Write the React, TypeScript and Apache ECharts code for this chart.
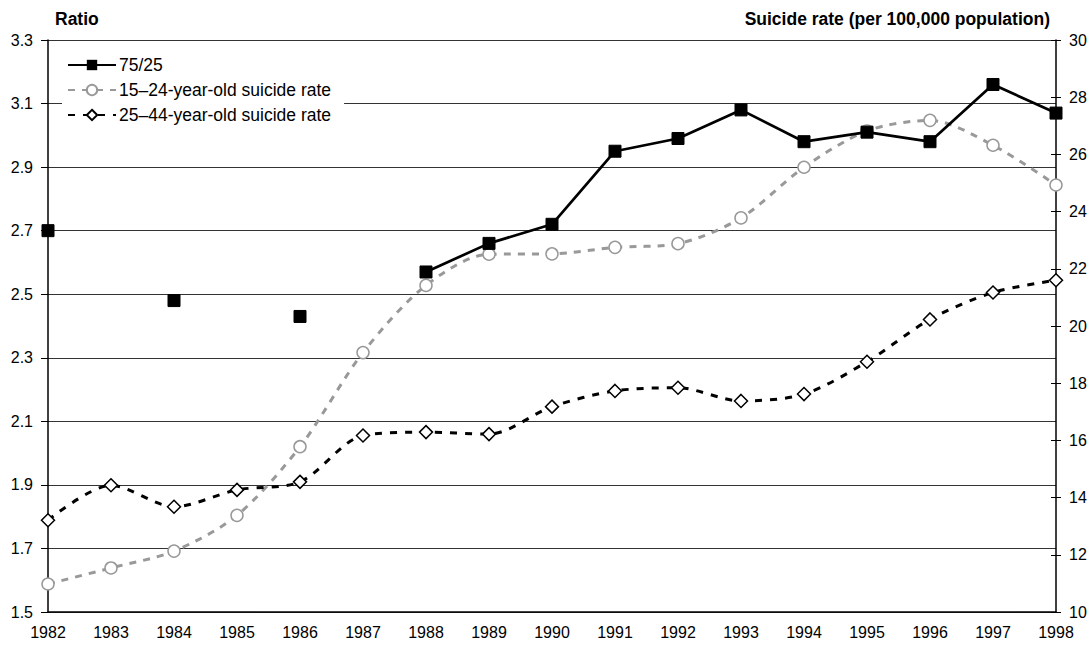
import React, { useEffect, useRef } from "react";
import * as echarts from "echarts";

const years = ["1982","1983","1984","1985","1986","1987","1988","1989","1990","1991","1992","1993","1994","1995","1996","1997","1998"];
const ratio7525 = [2.70, null, 2.48, null, 2.43, null, 2.57, 2.66, 2.72, 2.95, 2.99, 3.08, 2.98, 3.01, 2.98, 3.16, 3.07];
const rate1524 = [10.98, 11.54, 12.13, 13.38, 15.78, 19.07, 21.42, 22.51, 22.52, 22.75, 22.88, 23.78, 25.55, 26.82, 27.19, 26.32, 24.93];
const rate2544 = [13.21, 14.43, 13.68, 14.27, 14.55, 16.17, 16.29, 16.22, 17.18, 17.73, 17.84, 17.38, 17.62, 18.75, 20.23, 21.17, 21.6];

const FONT = "'Liberation Sans', Arial, sans-serif";

export default function App() {
  const ref = useRef<HTMLDivElement>(null);
  useEffect(() => {
    if (!ref.current) return;
    const chart = echarts.init(ref.current, null, { renderer: "svg" });
    chart.setOption({
      animation: false,
      textStyle: { fontFamily: FONT },
      grid: { left: 48, right: 36, top: 40, bottom: 39, containLabel: false },
      legend: {
        left: 62,
        top: 52,
        orient: "vertical",
        backgroundColor: "#fff",
        padding: [4, 13, 4, 5],
        itemGap: 7,
        itemWidth: 48,
        itemHeight: 13,
        textStyle: { fontFamily: FONT, fontSize: 17.5, color: "#000", padding: [0, 0, 0, -2] },
        data: ["75/25", "15–24-year-old suicide rate", "25–44-year-old suicide rate"],
      },
      xAxis: {
        type: "category",
        data: years,
        boundaryGap: false,
        axisLine: { lineStyle: { color: "#000", width: 1.5 } },
        axisTick: { show: false },
        axisLabel: { fontFamily: FONT, fontSize: 16, color: "#000", margin: 12 },
      },
      yAxis: [
        {
          type: "value",
          min: 1.5,
          max: 3.3,
          interval: 0.2,
          position: "left",
          name: "Ratio",
          nameLocation: "end",
          nameGap: 12,
          nameTextStyle: { fontFamily: FONT, fontSize: 17.5, fontWeight: "bold", color: "#000", align: "left", padding: [0, 0, 0, 7] },
          axisLine: { show: true, lineStyle: { color: "#000", width: 1.5 } },
          axisTick: { show: true, length: 7, lineStyle: { color: "#000" } },
          axisLabel: { fontFamily: FONT, fontSize: 16, color: "#000", margin: 15, formatter: (v: number) => v.toFixed(1) },
          splitLine: { show: true, lineStyle: { color: "#333", width: 1 } },
        },
        {
          type: "value",
          min: 10,
          max: 30,
          interval: 2,
          position: "right",
          name: "Suicide rate (per 100,000 population)",
          nameLocation: "end",
          nameGap: 12,
          nameTextStyle: { fontFamily: FONT, fontSize: 17.5, fontWeight: "bold", color: "#000", align: "right", padding: [0, 6, 0, 0] },
          axisLine: { show: true, lineStyle: { color: "#000", width: 1.5 } },
          axisTick: { show: true, length: 5, lineStyle: { color: "#000" } },
          axisLabel: { fontFamily: FONT, fontSize: 16, color: "#000", margin: 13 },
          splitLine: { show: false },
        },
        {
          type: "value",
          min: 10,
          max: 30,
          interval: 2,
          position: "right",
          axisLine: { show: false },
          axisTick: { show: true, inside: true, length: 5, lineStyle: { color: "#000" } },
          axisLabel: { show: false },
          splitLine: { show: false },
        },
      ],
      series: [
        {
          name: "75/25",
          type: "line",
          yAxisIndex: 0,
          data: ratio7525,
          connectNulls: false,
          symbol: "rect",
          symbolSize: 12,
          showSymbol: true,
          itemStyle: { color: "#000", borderColor: "#000" },
          lineStyle: { color: "#000", width: 2.7 },
          z: 5,
        },
        {
          name: "15–24-year-old suicide rate",
          type: "line",
          yAxisIndex: 1,
          data: rate1524,
          smooth: 0.3,
          symbol: "circle",
          symbolSize: 12,
          showSymbol: true,
          itemStyle: { color: "#fff", borderColor: "#999", borderWidth: 1.5 },
          lineStyle: { color: "#999", width: 3, type: [7, 7] },
          z: 3,
        },
        {
          name: "25–44-year-old suicide rate",
          type: "line",
          yAxisIndex: 1,
          data: rate2544,
          smooth: 0.3,
          symbol: "diamond",
          symbolSize: 13,
          showSymbol: true,
          itemStyle: { color: "#fff", borderColor: "#000", borderWidth: 1.5 },
          lineStyle: { color: "#000", width: 3, type: [7, 8] },
          z: 4,
        },
      ],
    });
    return () => chart.dispose();
  }, []);
  return <div ref={ref} style={{ width: 1092, height: 651, position: "absolute", left: 0, top: 0 }} />;
}
